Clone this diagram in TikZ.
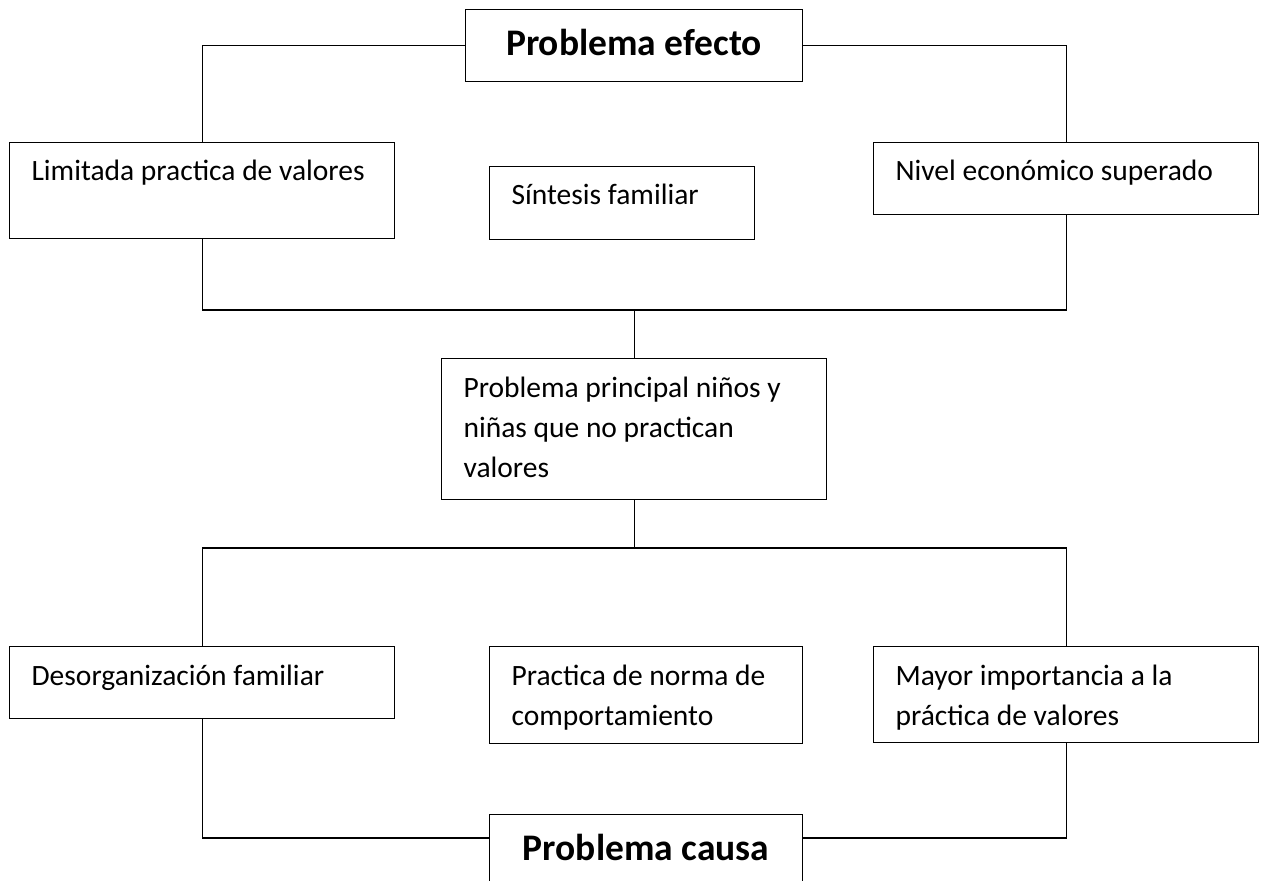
\documentclass[tikz,border=0pt]{standalone}
\usepackage{fontspec}
\setmainfont{Carlito}

\begin{document}
\begin{tikzpicture}[x=1pt,y=-1pt,line width=1.2pt,
   caja/.style={draw,anchor=north west,inner xsep=22pt,inner ysep=0pt,align=flush left,
      text width=341pt,font=\fontsize{29.5}{40}\selectfont},
   titulo/.style={draw,anchor=north west,inner sep=0pt,text height=46pt,
      font=\bfseries\fontsize{37.5}{44}\selectfont}]
   \useasboundingbox (0,0) rectangle (1264,881);
   \clip (0,0) rectangle (1264,881);

   \node[titulo,minimum width=337pt,text depth=26pt] (efecto) at (465,9) {Problema efecto};
   \node[caja,text height=38pt,text depth=58pt] (limitada) at (9,142) {Limitada practica de valores};
   \node[caja,text width=221pt,text height=38pt,text depth=35pt] (sintesis) at (489,166) {Síntesis familiar};
   \node[caja,text height=38pt,text depth=34pt] (nivel) at (873,142) {Nivel económico superado};

   \node[caja,text height=39pt,text depth=102pt] (principal) at (441,358)
      {Problema principal niños y\\niñas que no practican\\valores};

   \node[caja,text height=39pt,text depth=33pt] (desorg) at (9,646) {Desorganización familiar};
   \node[caja,text width=269pt,text height=39pt,text depth=58pt] (norma) at (489,646)
      {Practica de norma de\\comportamiento};
   \node[caja,text height=39pt,text depth=57pt] (mayor) at (873,646)
      {Mayor importancia a la\\práctica de valores};
   \node[titulo,minimum width=313pt,text depth=45pt] (causa) at (489,814) {Problema causa};

   \coordinate (arriba) at (principal.north |- 0,310);
   \coordinate (abajo) at (principal.south |- 0,548);

   \draw (efecto.west) -| (limitada.north);
   \draw (efecto.east) -| (nivel.north);
   \draw (limitada.south) |- (arriba) -| (nivel.south);
   \draw (arriba) -- (principal.north);
   \draw (principal.south) -- (abajo);
   \draw (desorg.north) |- (abajo) -| (mayor.north);
   \draw (desorg.south) |- ([yshift=-24pt]causa.north west);
   \draw (mayor.south) |- ([yshift=-24pt]causa.north east);
\end{tikzpicture}
\end{document}
